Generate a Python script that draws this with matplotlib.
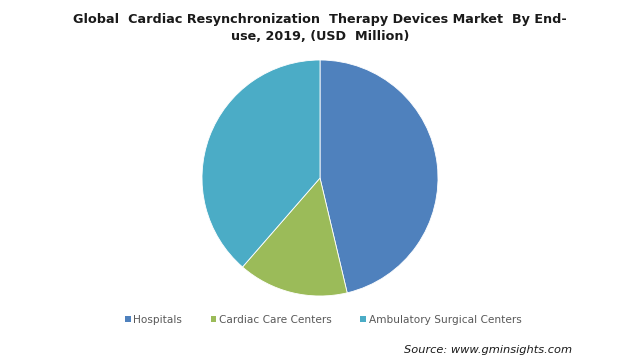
import matplotlib.pyplot as plt
from matplotlib.patches import Patch

labels = ['Hospitals', 'Cardiac Care Centers', 'Ambulatory Surgical Centers']
shares = [46.3, 15.1, 38.6]
COLORS = ['#4F81BD', '#9BBB59', '#4BACC6']

fig = plt.figure(figsize=(6.4, 3.6), dpi=100)
fig.patch.set_facecolor('white')

ax = fig.add_axes([202 / 640, 64 / 360, 236 / 640, 236 / 360])
ax.pie(shares, colors=COLORS, startangle=90, counterclock=False,
       wedgeprops=dict(linewidth=0.6, edgecolor='white'))
ax.set_xlim(-1, 1)
ax.set_ylim(-1, 1)
ax.set_aspect('equal')

fig.text(0.5, 0.922, 'Global  Cardiac Resynchronization  Therapy Devices Market  By End-\nuse, 2019, (USD  Million)',
         ha='center', va='center', fontsize=9.2, fontweight='bold', color='#1a1a1a', linespacing=1.45)

handles = [Patch(facecolor=c, edgecolor='none') for c in COLORS]
leg = fig.legend(handles, labels, loc='center', bbox_to_anchor=(0.505, 0.111), ncol=3,
                 frameon=False, fontsize=7.6, handlelength=0.55, handleheight=0.55,
                 handletextpad=0.25, columnspacing=2.7)
for t in leg.get_texts():
    t.set_color('#595959')

fig.text(0.894, 0.028, 'Source: www.gminsights.com', ha='right', va='center',
         fontsize=8.2, style='italic', color='#1a1a1a')

fig.savefig('out.png', dpi=100)
